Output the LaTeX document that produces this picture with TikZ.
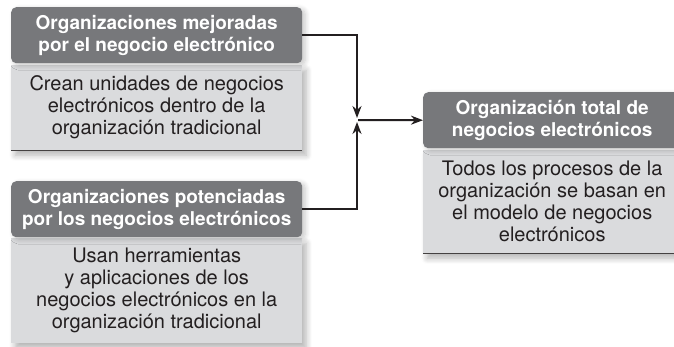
\documentclass[tikz,border=0pt]{standalone}
\usepackage{fontspec}
\setmainfont{TeX Gyre Heros}
\usetikzlibrary{positioning,arrows.meta,shadows.blur}
\definecolor{headgray}{HTML}{77787B}
\definecolor{bodygray}{HTML}{DADBDD}
\definecolor{inkgray}{HTML}{231F20}

\begin{document}
\begin{tikzpicture}[x=1pt,y=-1pt]
\tikzstyle{head}=[fill=headgray, text=white, font=\fontsize{19}{22}\selectfont\bfseries, rounded corners=5pt, align=center, inner sep=0pt, minimum height=56pt, blur shadow={shadow xshift=3pt, shadow yshift=-2pt, shadow opacity=22, shadow blur radius=5pt, shadow blur steps=8}];
\tikzstyle{body}=[fill=bodygray, text=inkgray, font=\fontsize{20}{22}\selectfont, align=center, inner sep=0pt, blur shadow={shadow xshift=4pt, shadow yshift=-5pt, shadow opacity=30, shadow blur radius=6pt, shadow blur steps=8}];
\tikzstyle{edgeline}=[draw=inkgray!85, line width=1.6pt];
\tikzstyle{conn}=[draw=inkgray, line width=2pt, -{Stealth[length=12pt,width=9pt]}];
\useasboundingbox (0,0) rectangle (674,346);
\node (B1) [body, anchor=north west, minimum width=291pt, minimum height=85pt] at (11,65) {Crean unidades de negocios\\electrónicos dentro de la\\organización tradicional};
\node (H1) [head, anchor=north west, minimum width=291pt] at (11,7) {Organizaciones mejoradas\\por el negocio electrónico};
\draw[edgeline] (B1.south west) -- (B1.south east);
\node (B2) [body, anchor=north west, minimum width=291pt, minimum height=105pt] at (11,238) {Usan herramientas\\y aplicaciones de los\\negocios electrónicos en la\\organización tradicional};
\node (H2) [head, anchor=north west, minimum width=291pt] at (11,181) {Organizaciones potenciadas\\por los negocios electrónicos};
\node (B3) [body, anchor=north west, minimum width=258pt, minimum height=103pt] at (423,150) {Todos los procesos de la\\organización se basan en\\el modelo de negocios\\electrónicos};
\node (H3) [head, anchor=north west, minimum width=258pt] at (423,92) {Organización total de\\negocios electrónicos};
\draw[edgeline] (B3.south west) -- (B3.south east);
\coordinate (J) at (357,120);
\draw[conn] (H1.east) -| ([yshift=2pt]J);
\draw[conn] (H2.east) -| ([yshift=-2pt]J);
\draw[conn] ([xshift=1pt]J) -- (H3.west);
\end{tikzpicture}
\end{document}
